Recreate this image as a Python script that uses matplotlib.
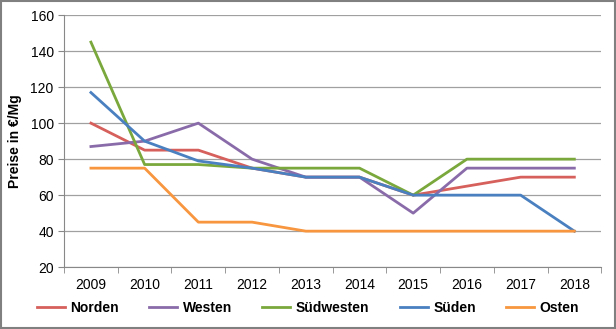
import numpy as np
import matplotlib
matplotlib.use("Agg")
import matplotlib.pyplot as plt

plt.rcParams['font.family'] = ['Liberation Sans', 'DejaVu Sans']

years = ['2009', '2010', '2011', '2012', '2013', '2014', '2015', '2016', '2017', '2018']
norden = [100, 85, 85, 75, 70, 70, 60, 65, 70, 70]
westen = [87, 90, 100, 80, 70, 70, 50, 75, 75, 75]
suedwesten = [145, 77, 77, 75, 75, 75, 60, 80, 80, 80]
sueden = [117, 90, 79, 75, 70, 70, 60, 60, 60, 40]
osten = [75, 75, 45, 45, 40, 40, 40, 40, 40, 40]

series = [
    ('Norden', norden, '#D6605C'),
    ('Westen', westen, '#8A6BAA'),
    ('Südwesten', suedwesten, '#7AA83C'),
    ('Süden', sueden, '#4A80C0'),
    ('Osten', osten, '#F7963F'),
]

fig = plt.figure(figsize=(6.16, 3.29), dpi=100)
ax = fig.add_axes([0.104, 0.188, 0.872, 0.766])

x = np.arange(len(years))
for name, vals, col in series:
    ax.plot(x, vals, color=col, lw=2.0, label=name, solid_joinstyle='round')

ax.set_xlim(-0.5, len(years) - 0.5)
ax.set_ylim(20, 160)
ax.set_yticks(range(20, 161, 20))
ax.set_xticks(x)
ax.set_xticklabels(years)
ax.set_xticks(np.arange(-0.5, len(years), 1), minor=True)
ax.tick_params(axis='x', which='major', length=0, pad=8, labelsize=10)
ax.tick_params(axis='x', which='minor', length=4, color='#888888')
ax.tick_params(axis='y', length=4, color='#888888', labelsize=10)
ax.grid(axis='y', color='#A0A0A0', lw=0.9)
ax.set_axisbelow(True)
for s in ['top', 'right']:
    ax.spines[s].set_visible(False)
for s in ['left', 'bottom']:
    ax.spines[s].set_color('#888888')
ax.set_ylabel('Preise in €/Mg', fontweight='bold', fontsize=10, labelpad=6)

leg = fig.legend(loc='center', bbox_to_anchor=(0.5, 0.064), ncol=5, frameon=False,
                 prop={'weight': 'bold', 'size': 10}, handlelength=2.0,
                 columnspacing=2.2, handletextpad=0.4)

fig.patches.append(plt.Rectangle((0.002, 0.003), 0.996, 0.994, transform=fig.transFigure,
                                 fill=False, edgecolor='#808080', lw=1.5))

fig.savefig('out.png', dpi=100)
